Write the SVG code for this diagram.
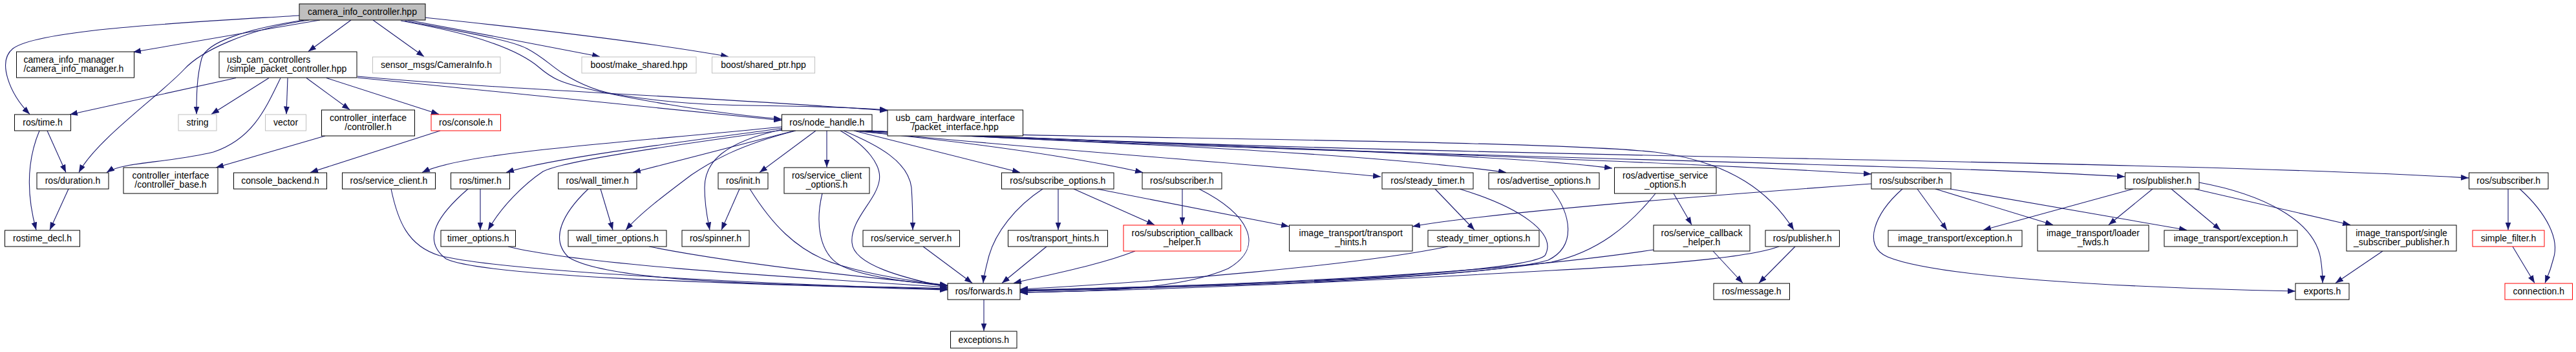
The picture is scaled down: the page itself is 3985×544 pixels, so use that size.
<svg xmlns="http://www.w3.org/2000/svg" width="3985" height="544" viewBox="0 0 3985 544">
<style>
.e{fill:none;stroke:#191970;stroke-width:1.1;marker-end:url(#a)}
rect{fill:#fff;stroke:#000;stroke-width:1}
.g rect{stroke:#bfbfbf}
.r rect{stroke:#ff0000}
.root rect{fill:#bfbfbf}
text{font-family:"Liberation Sans",Arial,sans-serif;font-size:14px;fill:#000;text-anchor:middle}
text.l{text-anchor:start}
</style>
<defs>
<marker id="a" markerUnits="userSpaceOnUse" markerWidth="12" markerHeight="9" refX="12" refY="4.5" orient="auto">
<path d="M0,0 L12,4.5 L0,9 z" fill="#191970"/>
</marker>
</defs>
<rect x="0" y="0" width="3985" height="544" style="fill:#fff;stroke:none"/>
<g id="edges">
<path class="e" d="M463,24 C300,34 60,45 20,75 C-5,95 15,145 46,176.5"/>
<path class="e" d="M495,31 L206,80.5"/>
<path class="e" d="M478,31 C380,45 310,80 285,107 C250,145 150,215 122,266.5"/>
<path class="e" d="M470,31 C380,45 320,65 312,90 C304,120 304,150 304,176.5"/>
<path class="e" d="M543,31 L477,79.5"/>
<path class="e" d="M577,31 L656,87.5"/>
<path class="e" d="M631,31 C720,48 850,72 928,87.5"/>
<path class="e" d="M656,27 C800,42 1000,65 1127,87.5"/>
<path class="e" d="M620,32 C690,45 730,55 760,66 C800,80 820,92 835,105 C855,122 870,128 900,135 C960,150 1100,175 1209,184"/>
<path class="e" d="M626,32 C720,50 790,62 815,75 C840,88 850,100 870,113 C900,132 930,143 960,147 C1040,160 1100,162 1160,163 C1250,164 1320,166 1373,170"/>
<path class="e" d="M365,120.5 L108,177"/>
<path class="e" d="M416,120.5 L327,176.5"/>
<path class="e" d="M434,120.5 C410,170 390,215 330,235 C260,252 190,250 165,266.5"/>
<path class="e" d="M445,120.5 L443,176.5"/>
<path class="e" d="M474,120.5 L541,169.5"/>
<path class="e" d="M505,120.5 L679,176.5"/>
<path class="e" d="M553,120 L1209,186"/>
<path class="e" d="M553,118 C800,140 1100,150 1373,171"/>
<path class="e" d="M73,202 L102,266.5"/>
<path class="e" d="M61,202 C45,240 38,290 56,355.5"/>
<path class="e" d="M106,292 L77,355.5"/>
<path class="e" d="M503,210 L334,259"/>
<path class="e" d="M681,202 L480,266.5"/>
<path class="e" d="M1210,196 C950,222 720,235 653,266.5"/>
<path class="e" d="M1212,198 C1050,220 850,245 783,266.5"/>
<path class="e" d="M1218,200 C1000,230 870,250 840,265 C810,285 775,320 755,355.5"/>
<path class="e" d="M1229,202 L979,266.5"/>
<path class="e" d="M1231,202 C1140,225 1100,250 1070,270 C1030,300 990,330 968,355.5"/>
<path class="e" d="M1210,200 C1120,220 1090,250 1090,290 C1090,320 1095,340 1098,355.5"/>
<path class="e" d="M1262,202 L1175,266.5"/>
<path class="e" d="M1279,202 L1279,258.5"/>
<path class="e" d="M1300,202 C1340,225 1365,255 1360,280 C1355,310 1315,340 1318,375 C1320,410 1400,430 1466,444"/>
<path class="e" d="M1305,202 C1360,225 1405,250 1410,290 C1412,320 1412,340 1412,355.5"/>
<path class="e" d="M1321,202 L1578,266.5"/>
<path class="e" d="M1325,203 C1800,215 2400,218 2560,235 C2680,250 2740,300 2775,355.5"/>
<path class="e" d="M1330,203 C1500,220 1650,240 1768,266.5"/>
<path class="e" d="M1333,203 C1600,230 1900,250 2136,273"/>
<path class="e" d="M1335,203 C1700,220 2100,235 2330,266.5"/>
<path class="e" d="M1338,202 C1800,225 2300,235 2494,260"/>
<path class="e" d="M1340,202 C1900,228 2500,245 2895,269"/>
<path class="e" d="M1343,202 C2000,240 2900,250 3287,273"/>
<path class="e" d="M1346,202 C2200,245 3300,245 3819,275"/>
<path class="e" d="M743,292 L743,355.5"/>
<path class="e" d="M724,292 C680,330 650,370 690,400 C750,430 1200,440 1466,448"/>
<path class="e" d="M605,292 C615,340 630,380 680,395 C780,420 1200,440 1466,447"/>
<path class="e" d="M786,381 C900,410 1250,430 1466,444"/>
<path class="e" d="M929,292 L948,355.5"/>
<path class="e" d="M910,292 C870,330 850,370 880,398 C950,440 1250,440 1466,446"/>
<path class="e" d="M1004,381 C1150,410 1350,430 1466,441"/>
<path class="e" d="M1144,292 L1116,355.5"/>
<path class="e" d="M1160,292 C1190,340 1230,390 1300,410 C1360,428 1420,435 1466,441"/>
<path class="e" d="M1272,299 C1262,340 1265,390 1300,410 C1340,430 1420,437 1466,442"/>
<path class="e" d="M1428,381 L1504,437.5"/>
<path class="e" d="M1637,292 L1637,355.5"/>
<path class="e" d="M1661,292 L1786,347.5"/>
<path class="e" d="M1697,292 L1994,350"/>
<path class="e" d="M1613,292 C1570,320 1540,360 1530,395 C1525,415 1522,425 1521,437.5"/>
<path class="e" d="M1619,381 L1550,437.5"/>
<path class="e" d="M1829,292 L1829,347.5"/>
<path class="e" d="M1855,292 C1930,330 1960,380 1900,415 C1820,450 1680,450 1578,452"/>
<path class="e" d="M1756,388 C1700,410 1620,425 1568,437.5"/>
<path class="e" d="M2220,292 L2281,355.5"/>
<path class="e" d="M2258,292 C2350,320 2410,360 2390,395 C2360,420 2000,440 1578,450"/>
<path class="e" d="M2240,381 C2100,410 1800,435 1578,447"/>
<path class="e" d="M2400,292 C2430,330 2440,380 2395,402 C2300,430 1900,440 1578,449"/>
<path class="e" d="M2589,299 L2617,347.5"/>
<path class="e" d="M2561,299 C2520,350 2470,390 2400,405 C2200,435 1900,442 1578,450"/>
<path class="e" d="M2650,388 L2696,437.5"/>
<path class="e" d="M2558,386 C2300,425 1900,442 1578,448"/>
<path class="e" d="M2777,381 L2721,437.5"/>
<path class="e" d="M2752,381 C2700,400 2550,410 2400,418 C2100,435 1800,448 1578,452"/>
<path class="e" d="M2895,284 C2600,305 2300,330 2185,350"/>
<path class="e" d="M2966,292 L3012,355.5"/>
<path class="e" d="M2994,292 L3176,347.5"/>
<path class="e" d="M3017,292 L3383,355.5"/>
<path class="e" d="M2943,292 C2900,330 2880,380 2920,397 C3000,430 3300,445 3551,450"/>
<path class="e" d="M3300,292 L3068,355.5"/>
<path class="e" d="M3330,292 L3262,347.5"/>
<path class="e" d="M3359,292 L3435,355.5"/>
<path class="e" d="M3395,292 L3636,347.5"/>
<path class="e" d="M3402,282 C3500,300 3580,340 3590,400 C3593,420 3593,430 3593,437.5"/>
<path class="e" d="M3686,388 L3613,437.5"/>
<path class="e" d="M3880,292 L3880,355.5"/>
<path class="e" d="M3898,292 C3940,330 3960,370 3950,400 C3945,420 3940,430 3937,437.5"/>
<path class="e" d="M3887,381 L3921,437.5"/>
<path class="e" d="M1522,463 L1522,511.5"/>
</g>
<g id="n0" class="root"><rect x="463" y="6" width="195" height="25"/><text x="560.5" y="23">camera_info_controller.hpp</text></g>
<g id="n1"><rect x="25.5" y="80" width="182" height="40"/><text class="l" x="36.5" y="96.5">camera_info_manager</text><text class="l" x="36.5" y="111">/camera_info_manager.h</text></g>
<g id="n2"><rect x="339" y="80" width="213" height="40"/><text class="l" x="351" y="96.5">usb_cam_controllers</text><text class="l" x="351" y="111">/simple_packet_controller.hpp</text></g>
<g id="n3" class="g"><rect x="576.5" y="88" width="197.5" height="25"/><text x="675" y="105">sensor_msgs/CameraInfo.h</text></g>
<g id="n4" class="g"><rect x="900" y="88" width="177" height="25"/><text x="988.5" y="105">boost/make_shared.hpp</text></g>
<g id="n5" class="g"><rect x="1101.5" y="88" width="159" height="25"/><text x="1181" y="105">boost/shared_ptr.hpp</text></g>
<g id="n6"><rect x="22.5" y="177" width="87" height="25"/><text x="66" y="194">ros/time.h</text></g>
<g id="n7" class="g"><rect x="276" y="177" width="59" height="25"/><text x="305.5" y="194">string</text></g>
<g id="n8" class="g"><rect x="410.5" y="177" width="63" height="25"/><text x="442" y="194">vector</text></g>
<g id="n9"><rect x="497.5" y="170" width="144" height="40"/><text x="569.5" y="186.5">controller_interface</text><text x="569.5" y="201">/controller.h</text></g>
<g id="n10" class="r"><rect x="667" y="177" width="107.5" height="25"/><text x="720.75" y="194">ros/console.h</text></g>
<g id="n11"><rect x="1209.5" y="177" width="139.5" height="25"/><text x="1279.25" y="194">ros/node_handle.h</text></g>
<g id="n12"><rect x="1373" y="170" width="209.5" height="40"/><text x="1477.75" y="186.5">usb_cam_hardware_interface</text><text x="1477.75" y="201">/packet_interface.hpp</text></g>
<g id="n13"><rect x="57" y="267" width="111" height="25"/><text x="112.5" y="284">ros/duration.h</text></g>
<g id="n14"><rect x="191" y="259" width="146" height="40"/><text x="264" y="275.5">controller_interface</text><text x="264" y="290">/controller_base.h</text></g>
<g id="n15"><rect x="361.5" y="267" width="144" height="25"/><text x="433.5" y="284">console_backend.h</text></g>
<g id="n16"><rect x="529.5" y="267" width="144" height="25"/><text x="601.5" y="284">ros/service_client.h</text></g>
<g id="n17"><rect x="697.5" y="267" width="91" height="25"/><text x="743" y="284">ros/timer.h</text></g>
<g id="n18"><rect x="863.5" y="267" width="121.5" height="25"/><text x="924.25" y="284">ros/wall_timer.h</text></g>
<g id="n19"><rect x="1111" y="267" width="77" height="25"/><text x="1149.5" y="284">ros/init.h</text></g>
<g id="n20"><rect x="1213" y="259" width="132" height="40"/><text x="1279" y="275.5">ros/service_client</text><text x="1279" y="290">_options.h</text></g>
<g id="n21"><rect x="1549.5" y="267" width="173.5" height="25"/><text x="1636.25" y="284">ros/subscribe_options.h</text></g>
<g id="n22"><rect x="1767" y="267" width="123" height="25"/><text x="1828.5" y="284">ros/subscriber.h</text></g>
<g id="n23"><rect x="2138" y="267" width="141" height="25"/><text x="2208.5" y="284">ros/steady_timer.h</text></g>
<g id="n24"><rect x="2303" y="267" width="171" height="25"/><text x="2388.5" y="284">ros/advertise_options.h</text></g>
<g id="n25"><rect x="2497.5" y="259" width="157.5" height="40"/><text x="2576.25" y="275.5">ros/advertise_service</text><text x="2576.25" y="290">_options.h</text></g>
<g id="n26"><rect x="2895" y="267" width="123" height="25"/><text x="2956.5" y="284">ros/subscriber.h</text></g>
<g id="n27"><rect x="3287.5" y="267" width="114.5" height="25"/><text x="3344.75" y="284">ros/publisher.h</text></g>
<g id="n28"><rect x="3819.5" y="267" width="122.5" height="25"/><text x="3880.75" y="284">ros/subscriber.h</text></g>
<g id="n29"><rect x="7.5" y="356" width="116" height="25"/><text x="65.5" y="373">rostime_decl.h</text></g>
<g id="n30"><rect x="682" y="356" width="115.5" height="25"/><text x="739.75" y="373">timer_options.h</text></g>
<g id="n31"><rect x="879" y="356" width="152" height="25"/><text x="955" y="373">wall_timer_options.h</text></g>
<g id="n32"><rect x="1055" y="356" width="104" height="25"/><text x="1107" y="373">ros/spinner.h</text></g>
<g id="n33"><rect x="1335" y="356" width="149.5" height="25"/><text x="1409.75" y="373">ros/service_server.h</text></g>
<g id="n34"><rect x="1559.5" y="356" width="154" height="25"/><text x="1636.5" y="373">ros/transport_hints.h</text></g>
<g id="n35" class="r"><rect x="1738" y="348" width="181.5" height="40"/><text x="1828.75" y="364.5">ros/subscription_callback</text><text x="1828.75" y="379">_helper.h</text></g>
<g id="n36"><rect x="1994.5" y="348" width="190.5" height="40"/><text x="2089.75" y="364.5">image_transport/transport</text><text x="2089.75" y="379">_hints.h</text></g>
<g id="n37"><rect x="2209" y="356" width="172" height="25"/><text x="2295" y="373">steady_timer_options.h</text></g>
<g id="n38"><rect x="2558" y="348" width="149" height="40"/><text x="2632.5" y="364.5">ros/service_callback</text><text x="2632.5" y="379">_helper.h</text></g>
<g id="n39"><rect x="2731" y="356" width="114.5" height="25"/><text x="2788.25" y="373">ros/publisher.h</text></g>
<g id="n40"><rect x="2921" y="356" width="207" height="25"/><text x="3024.5" y="373">image_transport/exception.h</text></g>
<g id="n41"><rect x="3152" y="348" width="172" height="40"/><text x="3238" y="364.5">image_transport/loader</text><text x="3238" y="379">_fwds.h</text></g>
<g id="n42"><rect x="3348" y="356" width="206" height="25"/><text x="3451" y="373">image_transport/exception.h</text></g>
<g id="n43"><rect x="3630" y="348" width="170" height="40"/><text x="3715" y="364.5">image_transport/single</text><text x="3715" y="379">_subscriber_publisher.h</text></g>
<g id="n44" class="r"><rect x="3825" y="356" width="111" height="25"/><text x="3880.5" y="373">simple_filter.h</text></g>
<g id="n45"><rect x="1466" y="438" width="112" height="25"/><text x="1522" y="455">ros/forwards.h</text></g>
<g id="n46"><rect x="2651" y="438" width="117.5" height="25"/><text x="2709.75" y="455">ros/message.h</text></g>
<g id="n47"><rect x="3551" y="438" width="83" height="25"/><text x="3592.5" y="455">exports.h</text></g>
<g id="n48" class="r"><rect x="3875" y="438" width="104.5" height="25"/><text x="3927.25" y="455">connection.h</text></g>
<g id="n49"><rect x="1470.5" y="512" width="102.5" height="26"/><text x="1521.75" y="529.5">exceptions.h</text></g>
</svg>
